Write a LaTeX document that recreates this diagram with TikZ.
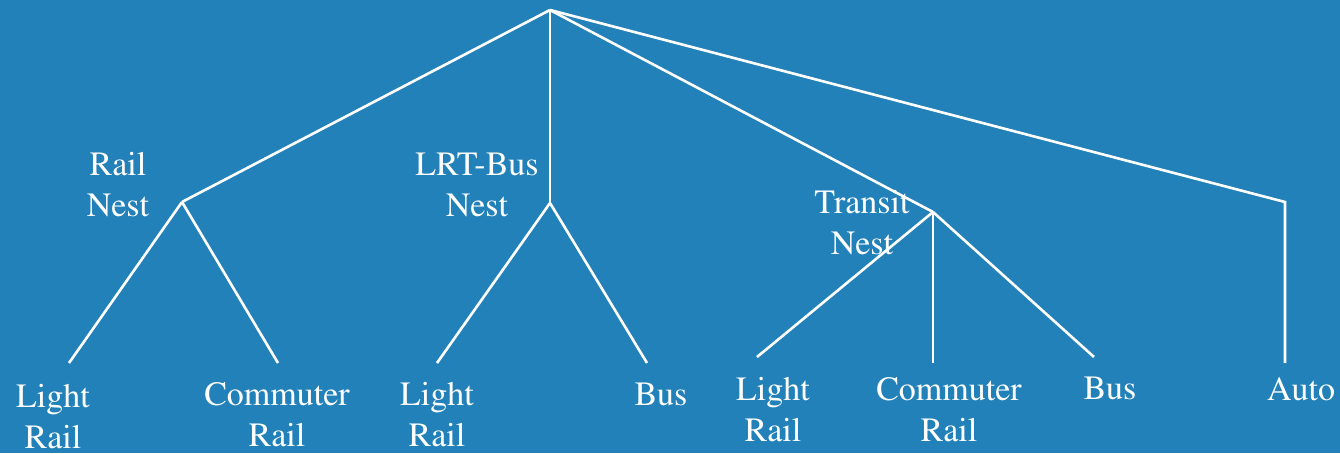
\documentclass[tikz,border=0pt]{standalone}
\usepackage[T1]{fontenc}
\usepackage{mathptmx}
\definecolor{bg}{RGB}{34,129,184}
\begin{document}
\begin{tikzpicture}[x=1pt,y=-1pt,
  lbl/.style={text=white, font=\rmfamily\fontsize{34}{41}\selectfont, align=center, inner sep=0pt},
  link/.style={draw=white, line width=2.6pt}]
\fill[bg] (0,0) rectangle (1340,453);
\useasboundingbox (0,0) rectangle (1340,453);
% junction points
\coordinate (root) at (550,10);
\coordinate (railj) at (182,202);
\coordinate (lrtj) at (550,203);
\coordinate (trj) at (933,212);
\coordinate (autoj) at (1285,202);
% leaf ends
\coordinate (l1) at (69,363);
\coordinate (c1) at (278,363);
\coordinate (l2) at (437,363);
\coordinate (b2) at (647,363);
\coordinate (l3) at (757,357);
\coordinate (c3) at (933,363);
\coordinate (b3) at (1094,357);
\coordinate (a4) at (1285,363);
% connectors
\draw[link] (root) -- (railj);
\draw[link] (root) -- (lrtj);
\draw[link] (root) -- (trj);
\draw[link] (root) -- (autoj) -- (a4);
\draw[link] (railj) -- (l1);
\draw[link] (railj) -- (c1);
\draw[link] (lrtj) -- (l2);
\draw[link] (lrtj) -- (b2);
\draw[link] (trj) -- (l3);
\draw[link] (trj) -- (c3);
\draw[link] (trj) -- (b3);
% labels
\node[lbl] (railnest) at (118,185) {Rail\\Nest};
\node[lbl] (lrtnest) at (477,185) {LRT-Bus\\Nest};
\node[lbl] (trnest) at (862,223) {Transit\\Nest};
\node[lbl] (lr1) at (53,417) {Light\\Rail};
\node[lbl] (cr1) at (277,415) {Commuter\\Rail};
\node[lbl] (lr2) at (437,415) {Light\\Rail};
\node[lbl] (bus2) at (661,395) {Bus};
\node[lbl] (lr3) at (773,410) {Light\\Rail};
\node[lbl] (cr3) at (949,410) {Commuter\\Rail};
\node[lbl] (bus3) at (1110,389) {Bus};
\node[lbl] (auto) at (1301,389) {Auto};
\end{tikzpicture}
\end{document}
